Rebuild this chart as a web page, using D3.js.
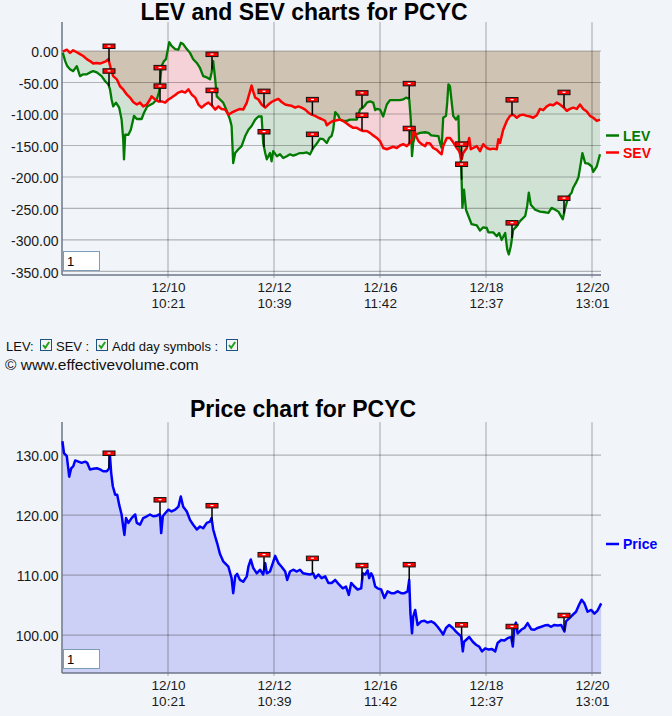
<!DOCTYPE html>
<html><head><meta charset="utf-8">
<script src="https://cdn.jsdelivr.net/npm/d3@7"></script>
<style>
html,body{margin:0;padding:0;background:#f1f5f9;}
svg{display:block;font-family:"Liberation Sans",Arial,sans-serif;}
</style></head><body>
<svg id="c" width="672" height="716"></svg>
<script>
// ---------- data ----------
const xTickT = [26.5, 53, 79.5, 106, 132.5];
const xTickDate = ["12/10", "12/12", "12/16", "12/18", "12/20"];
const xTickTime = ["10:21", "10:39", "11:42", "12:37", "13:01"];
const dayStartT = [11.75, 24.5, 37.5, 50.5, 62.6, 75, 86.8, 99.9, 112.5, 125.5];
const evTicks = [0, -50, -100, -150, -200, -250, -300, -350];
const priceTicks = [100, 110, 120, 130];

const levT = [0.2,0.8,1.3,2.0,2.8,3.7,4.5,5.3,6.2,7.0,7.8,8.7,9.9,10.8,11.6,12.0,12.4,12.8,13.5,14.3,14.9,15.3,15.5,15.8,16.6,17.2,18.0,18.7,19.9,20.5,21.3,22.8,23.7,24.3,24.9,25.5,26.0,26.3,26.8,27.4,28.3,29.1,29.7,30.3,31.2,32.0,32.8,33.7,34.5,35.3,36.2,37.0,37.4,37.8,38.3,38.7,39.5,40.3,41.2,42.0,42.4,42.8,43.3,44.1,44.9,45.8,46.6,47.4,48.3,49.1,49.9,50.3,50.8,51.2,52.0,52.4,52.8,53.7,54.5,55.3,56.2,57.0,57.8,58.7,59.5,60.3,61.2,62.0,62.8,63.7,64.5,65.3,66.2,66.8,67.4,67.8,68.3,69.1,69.5,70.3,71.2,72.0,72.8,73.7,74.5,75.2,75.8,76.2,77.0,77.8,78.3,78.7,79.5,80.3,81.2,82.0,82.8,83.7,84.5,85.3,86.0,86.8,87.2,87.5,87.8,88.3,89.5,90.8,91.6,92.3,94.1,94.5,94.9,95.3,96.0,96.3,96.6,97.0,97.4,97.8,98.5,99.1,99.3,99.7,99.9,100.1,100.5,101.0,101.6,102.4,103.7,104.5,105.3,106.2,106.6,107.8,108.7,109.3,109.9,110.8,111.3,111.7,112.2,112.8,113.7,114.5,115.8,116.3,116.7,117.2,118.3,119.5,120.8,121.6,122.4,123.3,124.1,125.2,125.8,126.6,127.4,127.8,128.5,129.1,129.7,130.1,130.8,131.6,132.4,132.8,133.7,134.5];
const lev = [-3,-16,-24,-29,-32,-24,-40,-37,-37,-34,-32,-34,-40,-48,-53,-61,-77,-88,-82,-90,-109,-140,-172,-133,-133,-125,-103,-108,-108,-98,-88,-83,-77,-64,-24,-16,-13,-3,14,8,3,2,13,11,3,-3,-13,-19,-27,-40,-42,-45,-34,-16,-45,-72,-77,-82,-95,-109,-119,-178,-162,-156,-151,-135,-125,-119,-109,-104,-104,-146,-162,-172,-162,-175,-159,-167,-164,-170,-167,-164,-166,-164,-162,-162,-161,-164,-154,-147,-139,-140,-146,-138,-135,-125,-97,-103,-109,-111,-111,-109,-109,-109,-93,-90,-86,-82,-80,-82,-94,-92,-93,-104,-85,-78,-78,-78,-78,-77,-74,-76,-109,-167,-146,-133,-130,-129,-130,-134,-135,-146,-154,-106,-103,-82,-53,-56,-80,-103,-109,-103,-151,-172,-204,-249,-220,-252,-262,-275,-277,-285,-280,-281,-288,-288,-294,-289,-300,-289,-315,-323,-310,-284,-278,-270,-262,-246,-225,-244,-252,-255,-256,-257,-249,-252,-255,-267,-249,-231,-225,-217,-209,-201,-178,-162,-178,-179,-183,-192,-183,-164];

const sevT = [0.2,1.2,2.0,2.8,3.7,4.5,5.3,6.2,7.0,7.8,8.7,9.5,10.8,11.6,12.2,12.8,13.7,14.5,15.3,16.2,17.0,17.8,18.7,19.5,20.3,21.2,22.0,22.4,23.3,24.1,24.9,25.8,26.6,27.4,28.3,29.1,29.9,30.8,31.6,32.4,33.3,34.1,34.9,35.8,36.6,37.4,38.3,39.1,39.9,40.8,41.6,42.4,43.3,44.5,45.3,46.2,47.0,47.4,47.8,48.3,49.1,49.9,50.8,51.6,52.4,53.3,54.1,54.9,55.8,56.6,57.4,58.3,59.1,59.9,60.8,61.6,62.4,63.3,64.1,64.9,65.8,66.2,67.0,67.8,68.7,69.5,70.3,71.2,72.0,72.8,73.7,74.5,75.3,76.2,77.0,77.8,78.7,79.5,80.3,81.2,82.0,82.8,83.7,84.5,85.3,86.2,87.0,87.7,88.0,88.5,89.1,89.9,90.8,91.2,92.0,92.8,93.7,94.5,94.9,95.3,96.2,97.0,97.8,98.7,99.3,99.9,100.3,101.2,101.8,102.2,102.8,103.7,104.5,105.3,106.2,107.0,107.8,108.7,109.1,109.5,110.3,111.2,112.0,112.8,113.7,114.5,115.3,116.2,117.0,117.8,118.7,119.5,120.3,121.2,122.0,122.8,123.7,124.5,125.5,126.2,127.0,127.8,128.7,129.5,130.3,131.2,132.0,132.8,133.7,134.5];
const sev = [-1,2,-3,1,-2,-5,-8,-13,-16,-20,-19,-20,-17,-13,-28,-40,-45,-56,-61,-69,-74,-81,-85,-82,-88,-85,-77,-72,-77,-80,-80,-82,-77,-74,-70,-66,-64,-66,-61,-69,-74,-85,-90,-85,-82,-86,-93,-88,-92,-93,-101,-98,-95,-92,-93,-82,-64,-55,-64,-74,-77,-85,-90,-85,-81,-78,-76,-81,-85,-86,-87,-90,-88,-90,-93,-98,-101,-103,-106,-108,-111,-118,-114,-111,-110,-109,-111,-115,-119,-122,-122,-125,-127,-127,-130,-134,-138,-143,-154,-156,-154,-152,-154,-150,-148,-151,-146,-138,-122,-135,-143,-148,-151,-146,-147,-154,-157,-162,-164,-151,-138,-138,-145,-154,-159,-172,-162,-154,-138,-156,-154,-151,-159,-148,-154,-156,-155,-156,-140,-146,-125,-111,-103,-101,-106,-102,-101,-103,-104,-106,-102,-92,-94,-88,-85,-86,-82,-85,-90,-95,-92,-90,-92,-85,-92,-96,-103,-106,-111,-109];

const priceT = [0.1,0.5,1.2,1.6,1.8,2.3,2.8,3.3,4.1,4.9,5.8,6.3,7.0,7.8,8.7,9.5,10.3,11.2,11.8,12.0,12.3,12.7,13.3,13.8,14.3,14.9,15.3,15.6,16.0,16.6,17.4,18.3,18.7,19.5,20.3,21.2,22.0,22.8,23.7,24.3,24.5,24.8,25.2,25.8,26.6,27.4,28.3,29.1,29.7,30.3,31.2,32.0,32.8,33.7,34.5,35.3,36.2,37.0,37.4,37.8,38.3,38.8,39.5,40.3,41.6,42.4,42.8,43.3,43.8,44.5,45.3,46.2,46.6,47.2,47.8,48.7,49.5,50.3,50.8,51.2,52.0,52.7,53.3,54.1,54.9,55.8,56.3,57.0,57.8,58.7,59.5,60.3,61.2,62.0,62.8,63.3,64.1,64.9,65.8,66.6,67.4,68.3,69.3,70.2,71.0,71.7,72.3,73.1,73.9,74.8,75.2,75.8,76.4,76.8,77.3,77.7,78.3,78.9,79.8,80.6,81.4,82.3,83.1,83.9,84.8,85.6,86.4,86.8,87.1,87.5,87.8,88.3,88.9,89.8,90.6,91.4,92.3,93.1,93.9,94.8,95.3,96.0,96.8,97.7,98.5,99.3,99.8,100.2,100.5,101.0,101.8,102.7,103.5,104.3,105.0,105.8,106.7,107.5,108.3,108.9,109.8,110.6,111.4,112.3,112.7,113.1,113.5,113.9,114.8,115.6,116.4,117.3,118.1,118.9,119.8,120.6,121.4,122.3,123.1,123.9,124.8,125.6,126.0,126.8,127.7,128.5,129.3,129.9,130.6,131.4,132.3,133.1,133.9,134.8];
const price = [132.3,130.3,129.8,127.6,126.4,127.8,128.1,129.1,128.9,128.7,128.9,128.7,127.6,127.7,127.8,127.6,127.3,127.3,127.8,129.8,127.0,124.8,123.4,123.4,121.7,120.1,118.1,116.7,119.5,118.7,119.5,120.1,118.7,118.4,119.5,119.8,120.1,119.8,119.9,120.1,120.0,117.0,119.8,120.3,120.9,120.6,120.9,121.4,123.1,121.4,120.6,119.2,118.4,117.6,118.1,117.8,118.7,118.9,119.5,117.6,116.4,115.3,113.5,112.3,111.4,109.5,107.0,109.8,110.2,109.2,108.9,109.8,111.4,112.6,111.2,110.3,110.9,110.1,112.0,110.3,110.6,112.0,113.2,112.0,111.4,110.6,109.2,110.6,110.9,110.6,110.9,110.3,110.2,110.1,110.3,109.5,110.1,109.5,109.8,108.7,108.7,109.2,108.4,107.8,108.1,106.7,108.7,108.1,107.6,107.8,110.3,110.1,110.8,109.5,110.3,109.8,108.1,107.8,107.6,106.2,107.3,107.0,107.0,107.3,107.0,107.0,107.3,109.2,103.7,100.3,103.1,104.2,101.7,102.3,102.4,102.1,102.3,102.0,101.4,100.6,100.1,101.2,101.7,101.2,100.6,100.1,99.8,97.3,98.9,99.2,99.7,98.9,98.4,98.1,97.3,97.8,97.6,97.7,97.3,98.7,99.2,99.1,99.5,99.7,98.1,101.4,102.1,100.3,100.9,101.2,102.0,101.0,100.9,101.2,101.4,101.6,101.7,101.4,101.7,101.6,101.7,100.6,102.3,102.8,103.4,103.9,105.1,105.9,105.3,103.9,104.2,103.6,104.1,105.3];

// ---------- layout ----------
const svg = d3.select("#c");
const L = 62, R = 602;
const x = d3.scaleLinear().domain([0, 135]).range([L, R]);
const top1 = 22, bot1 = 275, top2 = 422, bot2 = 673;
const y1 = d3.scaleLinear().domain([-355.6, 46]).range([bot1, top1]);
const y2 = d3.scaleLinear().domain([93.7, 135.5]).range([bot2, top2]);
const gridCol = "rgba(0,0,0,0.27)";
const axisCol = "#6c7488";

const levD = levT.map((t, i) => ({t, v: lev[i]}));
const sevD = sevT.map((t, i) => ({t, v: sev[i]}));
const priceD = priceT.map((t, i) => ({t, v: price[i]}));

function valAt(data, t) {
  const i = d3.bisector(d => d.t).left(data, t);
  if (i <= 0) return data[0].v;
  if (i >= data.length) return data[data.length - 1].v;
  const a = data[i - 1], b = data[i];
  return a.v + (b.v - a.v) * (t - a.t) / (b.t - a.t);
}

const defs = svg.append("defs");
function clipArea(id, data, yS, yEdge) {
  const a = d3.area().x(d => x(d.t)).y0(yEdge).y1(d => yS(d.v));
  defs.append("clipPath").attr("id", id).append("path").attr("d", a(data));
}
clipArea("aboveLev", levD, y1, top1 - 10);
clipArea("aboveSev", sevD, y1, top1 - 10);
clipArea("belowSev", sevD, y1, bot1 + 10);

// titles
svg.append("text").attr("x", 304).attr("y", 20).attr("text-anchor", "middle")
  .attr("font-size", 23).attr("font-weight", "bold").attr("fill", "#000")
  .text("LEV and SEV charts for PCYC");
svg.append("text").attr("x", 303).attr("y", 416.5).attr("text-anchor", "middle")
  .attr("font-size", 23).attr("font-weight", "bold").attr("fill", "#000")
  .text("Price chart for PCYC");

// ---------- top chart ----------
const g1 = svg.append("g");
g1.append("path")
  .attr("d", d3.area().x(d => x(d.t)).y0(y1(0)).y1(d => y1(Math.min(d.v, 0)))(sevD))
  .attr("fill", "#cfc3b4").attr("clip-path", "url(#aboveLev)");
const lineXY = d3.line().x(d => x(d.t)).y(d => y1(d.v));
const between = lineXY(levD) + "L" + lineXY(sevD.slice().reverse()).slice(1) + "Z";
g1.append("path").attr("d", between).attr("fill", "#f5d2d7").attr("clip-path", "url(#aboveSev)");
g1.append("path").attr("d", between).attr("fill", "#cfe2d4").attr("clip-path", "url(#belowSev)");

function grid(g, yS, ticks, top, bot) {
  g.append("g").selectAll("line").data(ticks).join("line")
    .attr("x1", L).attr("x2", x(135) - 1).attr("y1", d => yS(d)).attr("y2", d => yS(d))
    .attr("stroke", gridCol).attr("stroke-width", 1.2);
  g.append("g").selectAll("line").data(xTickT).join("line")
    .attr("x1", d => x(d)).attr("x2", d => x(d)).attr("y1", top).attr("y2", bot + 3)
    .attr("stroke", gridCol).attr("stroke-width", 1.2);
  g.append("line").attr("x1", L).attr("x2", L).attr("y1", top).attr("y2", bot)
    .attr("stroke", axisCol).attr("stroke-width", 1.5);
  g.append("line").attr("x1", L).attr("x2", x(135) - 1).attr("y1", bot).attr("y2", bot)
    .attr("stroke", axisCol).attr("stroke-width", 1.5);
}
function yAxis(g, yS, ticks) {
  g.append("g").attr("transform", `translate(${L},0)`)
    .call(d3.axisLeft(yS).tickValues(ticks).tickSize(0).tickPadding(3.5).tickFormat(d => d.toFixed(2)))
    .call(s => s.select(".domain").remove())
    .call(s => s.selectAll("text").attr("font-size", 14).attr("fill", "#1a1a1a")
      .attr("font-family", "'Liberation Sans',Arial,sans-serif").attr("dy", "0.4em"));
}
function xAxis(g, bot) {
  const ax = g.append("g").attr("transform", `translate(0,${bot})`)
    .call(d3.axisBottom(x).tickValues(xTickT).tickSize(0).tickFormat(""))
    .call(s => s.select(".domain").remove());
  ax.selectAll(".tick text").each(function(d, i) {
    const t = d3.select(this).attr("y", 0).attr("dy", 0)
      .attr("font-size", 13.5).attr("fill", "#1a1a1a")
      .attr("font-family", "'Liberation Sans',Arial,sans-serif");
    t.append("tspan").attr("x", 0).attr("y", 17).text(xTickDate[i]);
    t.append("tspan").attr("x", 0).attr("y", 33).text(xTickTime[i]);
  });
}
grid(g1, y1, evTicks, top1, bot1);
yAxis(g1, y1, evTicks);
xAxis(g1, bot1);

g1.append("path").attr("d", lineXY(levD)).attr("fill", "none")
  .attr("stroke", "#007a00").attr("stroke-width", 2.3).attr("stroke-linejoin", "round");
g1.append("path").attr("d", lineXY(sevD)).attr("fill", "none")
  .attr("stroke", "#ff0000").attr("stroke-width", 2.5).attr("stroke-linejoin", "round");

function flags(g, data, yS) {
  const fg = g.append("g");
  dayStartT.forEach(t => {
    const px = x(t), py = yS(valAt(data, t));
    fg.append("line").attr("x1", px).attr("x2", px).attr("y1", py - 13).attr("y2", py)
      .attr("stroke", "#000").attr("stroke-width", 1.5);
    fg.append("rect").attr("x", px - 6).attr("y", py - 17.5).attr("width", 12).attr("height", 4.5)
      .attr("fill", "#ff0000").attr("stroke", "#111").attr("stroke-width", 1);
    fg.append("rect").attr("x", px - 1.5).attr("y", py - 16).attr("width", 3).attr("height", 1.2)
      .attr("fill", "#fff");
  });
}
flags(g1, levD, y1);
flags(g1, sevD, y1);

function inputBox(g, yTop) {
  g.append("rect").attr("x", 63.5).attr("y", yTop).attr("width", 36).attr("height", 19)
    .attr("fill", "#fff").attr("stroke", "#7f9db9").attr("stroke-width", 1);
  g.append("text").attr("x", 67).attr("y", yTop + 14.5).attr("font-size", 13).attr("fill", "#000").text("1");
}
inputBox(g1, 251.5);

function legendItem(g, yb, label, col) {
  g.append("line").attr("x1", 606).attr("x2", 619).attr("y1", yb - 5).attr("y2", yb - 5)
    .attr("stroke", col).attr("stroke-width", 2.5);
  g.append("text").attr("x", 623).attr("y", yb).attr("font-size", 14).attr("font-weight", "bold")
    .attr("fill", col).text(label);
}
legendItem(svg, 140.5, "LEV", "#007a00");
legendItem(svg, 157.5, "SEV", "#ff0000");

// ---------- controls ----------
const ctl = svg.append("g").attr("font-size", 13).attr("fill", "#111");
ctl.append("text").attr("x", 6).attr("y", 351).text("LEV:");
ctl.append("text").attr("x", 56).attr("y", 351).text("SEV :");
ctl.append("text").attr("x", 112).attr("y", 351).text("Add day symbols :");
[40, 96, 226].forEach(cx => {
  ctl.append("rect").attr("x", cx + 0.5).attr("y", 339.5).attr("width", 11).attr("height", 11)
    .attr("fill", "#f4f4f4").attr("stroke", "#1c5180").attr("stroke-width", 1);
  ctl.append("path").attr("d", `M${cx + 3},${345} L${cx + 5.2},${347.8} L${cx + 9.2},${342}`)
    .attr("fill", "none").attr("stroke", "#21a121").attr("stroke-width", 2);
});
svg.append("text").attr("x", 5).attr("y", 370).attr("font-size", 15.5).attr("fill", "#111")
  .text("\u00A9 www.effectivevolume.com");

// ---------- price chart ----------
const g2 = svg.append("g");
g2.append("path")
  .attr("d", d3.area().x(d => x(d.t)).y0(bot2).y1(d => y2(d.v))(priceD))
  .attr("fill", "#cdd0f6");
grid(g2, y2, priceTicks, top2, bot2);
yAxis(g2, y2, priceTicks);
xAxis(g2, bot2);
g2.append("path").attr("d", d3.line().x(d => x(d.t)).y(d => y2(d.v))(priceD))
  .attr("fill", "none").attr("stroke", "#0000ff").attr("stroke-width", 2.5).attr("stroke-linejoin", "round");
flags(g2, priceD, y2);
inputBox(g2, 649.5);
legendItem(svg, 549, "Price", "#0000ff");
</script>
</body></html>
